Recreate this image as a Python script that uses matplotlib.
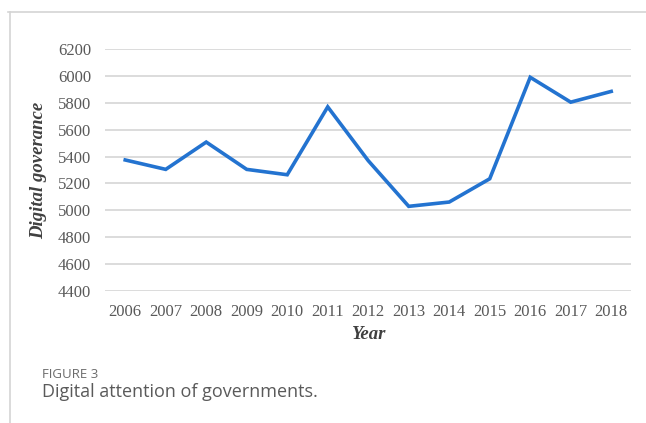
import matplotlib.pyplot as plt
from matplotlib.lines import Line2D

# data
years = ['2006', '2007', '2008', '2009', '2010', '2011', '2012',
         '2013', '2014', '2015', '2016', '2017', '2018']
governance = [5375, 5305, 5508, 5305, 5265, 5770, 5370,
              5030, 5062, 5235, 5990, 5805, 5885]
y_ticks = [4400, 4600, 4800, 5000, 5200, 5400, 5600, 5800, 6000, 6200]

plt.rcParams['font.family'] = ['Liberation Serif', 'DejaVu Serif']

fig = plt.figure(figsize=(6.46, 4.23), dpi=100)
ax = fig.add_axes([0.1625, 0.312, 0.815, 0.572])

x = list(range(len(years)))
ax.plot(x, governance, color='#2373d0', linewidth=2.6, solid_joinstyle='miter', zorder=3)

ax.set_xlim(-0.5, len(years) - 0.5)
ax.set_ylim(4400, 6200)
ax.set_yticks(y_ticks)
ax.set_xticks(x)
ax.set_xticklabels(years)
ax.grid(axis='y', color='#d9d9d9', linewidth=1.3)
ax.set_axisbelow(True)
for s in ax.spines.values():
    s.set_visible(False)
ax.tick_params(length=0, labelsize=12, labelcolor='#595959')
ax.tick_params(axis='y', pad=10)
ax.tick_params(axis='x', pad=9)

ax.set_xlabel('Year', fontsize=13.5, fontweight='bold',
              style='italic', color='#404040', labelpad=5)
ax.set_ylabel('Digital goverance', fontsize=13.5,
              fontweight='bold', style='italic', color='#404040', labelpad=8)

# outer frame lines (top and left)
fig.add_artist(Line2D([8 / 646, 1], [1 - 12 / 423, 1 - 12 / 423], transform=fig.transFigure,
                      color='#d4d4d4', linewidth=1.2))
fig.add_artist(Line2D([10 / 646, 10 / 646], [0, 1 - 12 / 423], transform=fig.transFigure,
                      color='#d4d4d4', linewidth=1.2))

fig.text(42 / 646, 1 - 375 / 423, 'FIGURE 3', family='Open Sans', fontsize=9.5,
         color='#6b6b6b', va='center')
fig.text(42 / 646, 1 - 392 / 423, 'Digital attention of governments.', family='Open Sans',
         fontsize=13, color='#5a5a5a', va='center')

fig.savefig('out.png', dpi=100)
